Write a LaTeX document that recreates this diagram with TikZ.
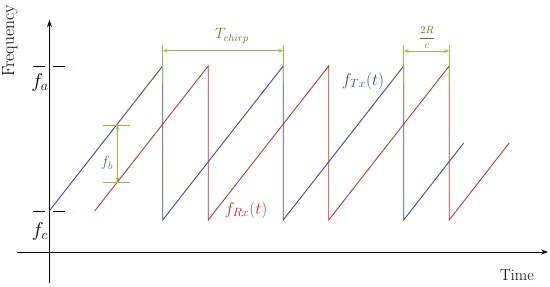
\RequirePackage{fix-cm}
\documentclass[tikz,border=0pt]{standalone}
\usepackage{fontspec}
\usetikzlibrary{arrows.meta}
\definecolor{txblue}{RGB}{58,70,158}
\definecolor{rxred}{RGB}{178,56,44}
\definecolor{grn}{RGB}{140,196,64}
\definecolor{dgrn}{RGB}{72,120,36}
\begin{document}
\begin{tikzpicture}[x=1pt,y=-1pt,
  axis/.style={line width=1pt,-{Stealth[length=7pt,width=5pt]}},
  guide/.style={line width=0.9pt,dash pattern=on 12pt off 8pt},
  tx/.style={txblue,line width=0.9pt,line join=miter},
  rx/.style={rxred,line width=0.9pt,line join=miter},
  meas/.style={grn,line width=0.9pt,{Stealth[length=5pt,width=4pt]}-{Stealth[length=5pt,width=4pt]}},
  tickline/.style={grn,line width=0.9pt},
  lbl/.style={inner sep=0pt}]
\useasboundingbox (0,0) rectangle (550,287);
% axes
\coordinate (yb) at (49.5,283); \coordinate (yt) at (49.5,20);
\coordinate (xl) at (17,252); \coordinate (xr) at (548,252);
\draw[axis] (yb) -- (yt);
\draw[axis] (xl) -- (xr);
% guides
\coordinate (fa1) at (33,66); \coordinate (fa2) at (73,66);
\coordinate (fc1) at (33,211); \coordinate (fc2) at (73,211);
\draw[guide] (fa1) -- (fa2);
\draw[guide] (fc1) -- (fc2);
% transmitted chirps
\draw[tx] (49.2,211) -- (162.7,66) -- (162.7,220) -- (283.2,66) -- (283.2,220)
  -- (403.7,66) -- (403.7,220) -- (463.7,143);
% received chirps
\draw[rx] (94.7,211) -- (208.2,66) -- (208.2,220) -- (328.7,66) -- (328.7,220)
  -- (449.2,66) -- (449.2,220) -- (509.2,143);
% measurements
\draw[tickline] (162.7,45) -- (162.7,83);
\draw[tickline] (283.2,45) -- (283.2,83);
\draw[tickline] (403.7,45) -- (403.7,83);
\draw[tickline] (449.2,45) -- (449.2,83);
\draw[meas] (162.7,50.7) -- (283.2,50.7);
\draw[meas] (403.7,51) -- (449.2,51);
\draw[tickline] (103,125) -- (130,125);
\draw[tickline] (103,182) -- (130,182);
\draw[meas] (117.5,125) -- (117.5,182);
% labels
\node[lbl,rotate=90] (lfreq) at (10,41) {\fontsize{17.5}{20}\selectfont Frequency};
\node[lbl] (ltime) at (517,275) {\fontsize{16}{18}\selectfont Time};
\node[lbl] (lfa) at (40,82) {\fontsize{20}{24}\selectfont $f_a$};
\node[lbl] (lfc) at (40,231) {\fontsize{20}{24}\selectfont $f_c$};
\node[lbl,text=dgrn] (ltc) at (232,36) {\fontsize{15}{18}\selectfont $T_{chirp}$};
\node[lbl,text=dgrn] (l2rc) at (427,37.5) {\fontsize{10.5}{12}\selectfont $\displaystyle\frac{2R}{c}$};
\node[lbl,text=dgrn] (lfb) at (107,163) {\fontsize{15}{18}\selectfont $f_b$};
\node[lbl,text=txblue] (lftx) at (363,81) {\fontsize{17}{20}\selectfont $f_{Tx}\bigl(t\bigr)$};
\node[lbl,text=rxred] (lfrx) at (246,210) {\fontsize{17}{20}\selectfont $f_{Rx}\bigl(t\bigr)$};
\end{tikzpicture}
\end{document}
